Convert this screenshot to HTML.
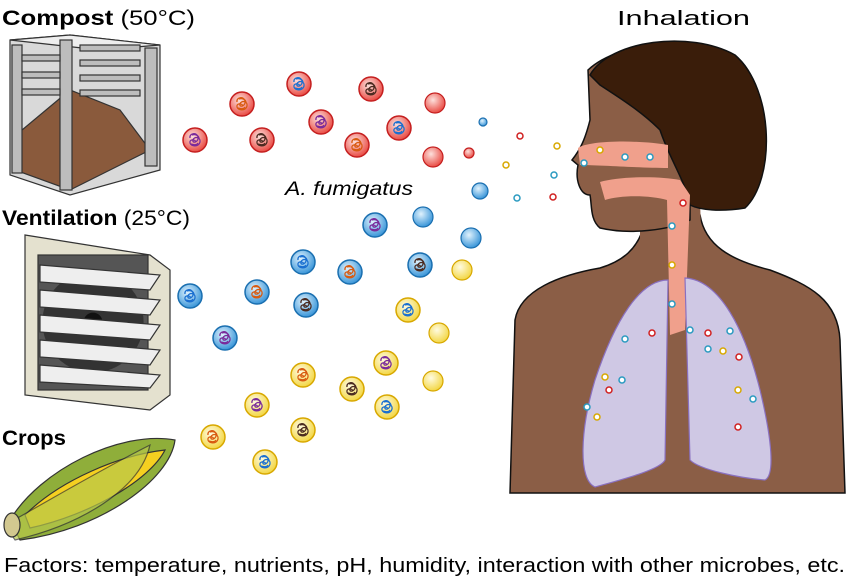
<!DOCTYPE html>
<html><head><meta charset="utf-8"><style>
body{margin:0;background:#fff;width:850px;height:583px;overflow:hidden}
svg{display:block}
text{font-family:"Liberation Sans",sans-serif}
</style></head><body>
<svg width="850" height="583" viewBox="0 0 850 583">
<defs>
<radialGradient id="gr" cx="0.4" cy="0.35" r="0.7"><stop offset="0" stop-color="#fde0dc"/><stop offset="1" stop-color="#e8423a"/></radialGradient>
<radialGradient id="gb" cx="0.4" cy="0.35" r="0.7"><stop offset="0" stop-color="#e0f2fd"/><stop offset="1" stop-color="#2e8fd6"/></radialGradient>
<radialGradient id="gy" cx="0.4" cy="0.35" r="0.7"><stop offset="0" stop-color="#fffbe0"/><stop offset="1" stop-color="#f2d43a"/></radialGradient>
<g id="coil"><path d="M-5,-2 C-6,-7 2,-8 3,-3 C4,2 -3,4 -2,0 C-1,-4 6,-3 5,2 C4,7 -4,7 -5,3 C-6,-1 0,-1 1,2 M-3,-5 C0,-6 4,-5 4,-1 M-4,4 C-1,5 2,5 3,3" fill="none" stroke-width="1.3"/></g>
</defs>

<!-- Labels -->
<text x="2" y="25" font-size="21" font-weight="bold" textLength="193" lengthAdjust="spacingAndGlyphs">Compost <tspan font-weight="normal">(50°C)</tspan></text>
<text x="2" y="225" font-size="21" font-weight="bold" textLength="188" lengthAdjust="spacingAndGlyphs">Ventilation <tspan font-weight="normal">(25°C)</tspan></text>
<text x="2" y="445" font-size="21" font-weight="bold" textLength="64" lengthAdjust="spacingAndGlyphs">Crops</text>
<text x="285" y="195" font-size="19" font-style="italic" textLength="128" lengthAdjust="spacingAndGlyphs">A. fumigatus</text>
<text x="617" y="25" font-size="20" textLength="133" lengthAdjust="spacingAndGlyphs">Inhalation</text>
<text x="4" y="572" font-size="20" textLength="841" lengthAdjust="spacingAndGlyphs">Factors: temperature, nutrients, pH, humidity, interaction with other microbes, etc.</text>

<!-- Compost bin -->
<g stroke="#333" stroke-width="1.2">
<polygon points="10,40 70,35 160,45 160,170 70,195 10,175" fill="#d9d9d9"/>
<polygon points="10,40 70,35 160,45 100,50" fill="#eee"/>
<polygon points="22,130 70,90 120,110 150,150 70,190 15,170" fill="#8a5a3c"/>
<g fill="#bdbdbd">
<rect x="12" y="45" width="10" height="128"/><rect x="60" y="40" width="12" height="150"/><rect x="145" y="48" width="12" height="118"/>
<rect x="80" y="45" width="60" height="6"/><rect x="80" y="60" width="60" height="6"/><rect x="80" y="75" width="60" height="6"/><rect x="80" y="90" width="60" height="6"/>
<rect x="22" y="55" width="38" height="6"/><rect x="22" y="72" width="38" height="6"/><rect x="22" y="89" width="38" height="6"/>
</g></g>

<!-- Fan -->
<g stroke="#333" stroke-width="1.2">
<polygon points="25,235 150,255 170,270 170,395 150,410 25,395" fill="#e4e1cf"/>
<rect x="38" y="255" width="110" height="135" fill="#555"/>
<circle cx="93" cy="322" r="50" fill="#333"/>
<circle cx="93" cy="322" r="10" fill="#111"/>
<g fill="#eeeeee">
<polygon points="40,265 160,275 150,290 40,282"/>
<polygon points="40,290 160,300 150,315 40,307"/>
<polygon points="40,315 160,325 150,340 40,332"/>
<polygon points="40,340 160,350 150,365 40,357"/>
<polygon points="40,365 160,375 150,388 40,382"/>
</g></g>

<!-- Corn -->
<g stroke="#333" stroke-width="1.2">
<path d="M10,520 C40,470 120,430 175,440 C170,480 100,530 20,540 Z" fill="#8fae3a"/>
<path d="M25,515 C60,480 120,455 165,450 C150,480 90,515 30,528 Z" fill="#f5d020"/>
<path d="M5,525 C50,500 100,470 150,445 C140,490 80,525 15,540 Z" fill="#b7c84a" opacity="0.7"/>
<ellipse cx="12" cy="525" rx="8" ry="12" fill="#d2c890"/>
</g>

<!-- Person -->
<g stroke="#111" stroke-width="1.5">
<path d="M510,493 L515,320 C520,290 560,275 600,268 C620,262 640,250 645,220 L700,215 C705,245 730,260 770,270 C810,285 838,300 840,340 L845,493 Z" fill="#8b5e46"/>
<path d="M640,200 L700,200 L702,262 L640,262 Z" fill="#8b5e46" stroke="none"/>
<path d="M588,70 C620,40 700,35 740,60 C770,90 775,180 740,205 C720,210 700,205 690,200 L690,220 C670,230 630,235 600,228 C590,220 592,205 590,195 C580,195 575,180 578,165 L572,160 C580,150 585,140 590,120 Z" fill="#8b5e46"/>
<path d="M590,75 C610,40 690,30 735,55 C775,90 775,180 745,208 C720,212 700,210 690,205 C685,180 670,160 660,130 C640,110 615,95 600,85 Z" fill="#3a1d0a"/>
</g>
<!-- airways -->
<g fill="#f0a08c">
<path d="M578,148 C590,140 640,140 668,145 L668,168 C640,168 600,165 580,165 Z"/>
<path d="M600,182 C620,176 660,176 680,180 L690,195 L685,330 L670,335 L667,200 C650,195 620,195 605,200 Z"/>
</g>
<!-- lungs -->
<g fill="#cfc8e4" stroke="#8a70c0" stroke-width="1.2">
<path d="M668,280 C640,280 615,320 595,380 C580,430 578,480 595,487 C620,480 660,470 665,460 Z"/>
<path d="M685,278 C720,280 745,330 760,390 C772,440 775,475 765,480 C740,478 700,470 690,460 Z"/>
</g>

<!-- Patterned spores -->
<g>
<g stroke="#c51f1f" stroke-width="1.5">
<circle cx="195" cy="140" r="12" fill="url(#gr)"/><circle cx="242" cy="104" r="12" fill="url(#gr)"/><circle cx="262" cy="140" r="12" fill="url(#gr)"/><circle cx="299" cy="84" r="12" fill="url(#gr)"/><circle cx="321" cy="122" r="12" fill="url(#gr)"/><circle cx="357" cy="145" r="12" fill="url(#gr)"/><circle cx="371" cy="89" r="12" fill="url(#gr)"/><circle cx="399" cy="128" r="12" fill="url(#gr)"/>
</g>
<g stroke="#1a6fb0" stroke-width="1.5">
<circle cx="375" cy="225" r="12" fill="url(#gb)"/><circle cx="303" cy="262" r="12" fill="url(#gb)"/><circle cx="350" cy="272" r="12" fill="url(#gb)"/><circle cx="420" cy="265" r="12" fill="url(#gb)"/><circle cx="190" cy="296" r="12" fill="url(#gb)"/><circle cx="257" cy="292" r="12" fill="url(#gb)"/><circle cx="306" cy="305" r="12" fill="url(#gb)"/><circle cx="225" cy="338" r="12" fill="url(#gb)"/>
</g>
<g stroke="#d8a800" stroke-width="1.5">
<circle cx="408" cy="310" r="12" fill="url(#gy)"/><circle cx="386" cy="363" r="12" fill="url(#gy)"/><circle cx="303" cy="375" r="12" fill="url(#gy)"/><circle cx="352" cy="389" r="12" fill="url(#gy)"/><circle cx="387" cy="407" r="12" fill="url(#gy)"/><circle cx="257" cy="405" r="12" fill="url(#gy)"/><circle cx="303" cy="430" r="12" fill="url(#gy)"/><circle cx="213" cy="437" r="12" fill="url(#gy)"/><circle cx="265" cy="462" r="12" fill="url(#gy)"/>
</g>
<use href="#coil" x="195" y="140" stroke="#7a2a9a"/><use href="#coil" x="242" y="104" stroke="#d85a10"/><use href="#coil" x="262" y="140" stroke="#4a2a20"/><use href="#coil" x="299" y="84" stroke="#1a6fd0"/><use href="#coil" x="321" y="122" stroke="#7a2a9a"/><use href="#coil" x="357" y="145" stroke="#d85a10"/><use href="#coil" x="371" y="89" stroke="#4a2a20"/><use href="#coil" x="399" y="128" stroke="#1a6fd0"/>
<use href="#coil" x="375" y="225" stroke="#7a2a9a"/><use href="#coil" x="303" y="262" stroke="#1a6fd0"/><use href="#coil" x="350" y="272" stroke="#d85a10"/><use href="#coil" x="420" y="265" stroke="#4a2a20"/><use href="#coil" x="190" y="296" stroke="#1a6fd0"/><use href="#coil" x="257" y="292" stroke="#d85a10"/><use href="#coil" x="306" y="305" stroke="#4a2a20"/><use href="#coil" x="225" y="338" stroke="#7a2a9a"/>
<use href="#coil" x="408" y="310" stroke="#1a6fd0"/><use href="#coil" x="386" y="363" stroke="#7a2a9a"/><use href="#coil" x="303" y="375" stroke="#d85a10"/><use href="#coil" x="352" y="389" stroke="#4a2a20"/><use href="#coil" x="387" y="407" stroke="#1a6fd0"/><use href="#coil" x="257" y="405" stroke="#7a2a9a"/><use href="#coil" x="303" y="430" stroke="#4a2a20"/><use href="#coil" x="213" y="437" stroke="#d85a10"/><use href="#coil" x="265" y="462" stroke="#1a6fd0"/>
</g>

<!-- plain spores -->
<g stroke-width="1.2">
<circle cx="435" cy="103" r="10" fill="url(#gr)" stroke="#c51f1f"/><circle cx="433" cy="157" r="10" fill="url(#gr)" stroke="#c51f1f"/><circle cx="469" cy="153" r="5" fill="url(#gr)" stroke="#c51f1f"/>
<circle cx="423" cy="217" r="10" fill="url(#gb)" stroke="#1a6fb0"/><circle cx="471" cy="238" r="10" fill="url(#gb)" stroke="#1a6fb0"/><circle cx="480" cy="191" r="8" fill="url(#gb)" stroke="#1a6fb0"/><circle cx="483" cy="122" r="4" fill="url(#gb)" stroke="#1a6fb0"/>
<circle cx="462" cy="270" r="10" fill="url(#gy)" stroke="#d8a800"/><circle cx="439" cy="333" r="10" fill="url(#gy)" stroke="#d8a800"/><circle cx="433" cy="381" r="10" fill="url(#gy)" stroke="#d8a800"/>
</g>
<g stroke-width="1.5" fill="#fff">
<circle cx="520" cy="136" r="3" stroke="#d02020"/><circle cx="553" cy="197" r="3" stroke="#d02020"/><circle cx="683" cy="203" r="3" stroke="#d02020"/><circle cx="652" cy="333" r="3" stroke="#d02020"/><circle cx="708" cy="333" r="3" stroke="#d02020"/><circle cx="739" cy="357" r="3" stroke="#d02020"/><circle cx="609" cy="390" r="3" stroke="#d02020"/><circle cx="738" cy="427" r="3" stroke="#d02020"/>
<circle cx="557" cy="146" r="3" stroke="#d8a800"/><circle cx="506" cy="165" r="3" stroke="#d8a800"/><circle cx="600" cy="150" r="3" stroke="#d8a800"/><circle cx="672" cy="265" r="3" stroke="#d8a800"/><circle cx="723" cy="351" r="3" stroke="#d8a800"/><circle cx="605" cy="377" r="3" stroke="#d8a800"/><circle cx="738" cy="390" r="3" stroke="#d8a800"/><circle cx="597" cy="417" r="3" stroke="#d8a800"/>
<circle cx="554" cy="175" r="3" stroke="#2a9ac0"/><circle cx="517" cy="198" r="3" stroke="#2a9ac0"/><circle cx="584" cy="163" r="3" stroke="#2a9ac0"/><circle cx="625" cy="157" r="3" stroke="#2a9ac0"/><circle cx="650" cy="157" r="3" stroke="#2a9ac0"/><circle cx="672" cy="226" r="3" stroke="#2a9ac0"/><circle cx="672" cy="304" r="3" stroke="#2a9ac0"/><circle cx="625" cy="339" r="3" stroke="#2a9ac0"/><circle cx="690" cy="330" r="3" stroke="#2a9ac0"/><circle cx="730" cy="331" r="3" stroke="#2a9ac0"/><circle cx="708" cy="349" r="3" stroke="#2a9ac0"/><circle cx="622" cy="380" r="3" stroke="#2a9ac0"/><circle cx="753" cy="399" r="3" stroke="#2a9ac0"/><circle cx="587" cy="407" r="3" stroke="#2a9ac0"/>
</g>
</svg>
</body></html>
